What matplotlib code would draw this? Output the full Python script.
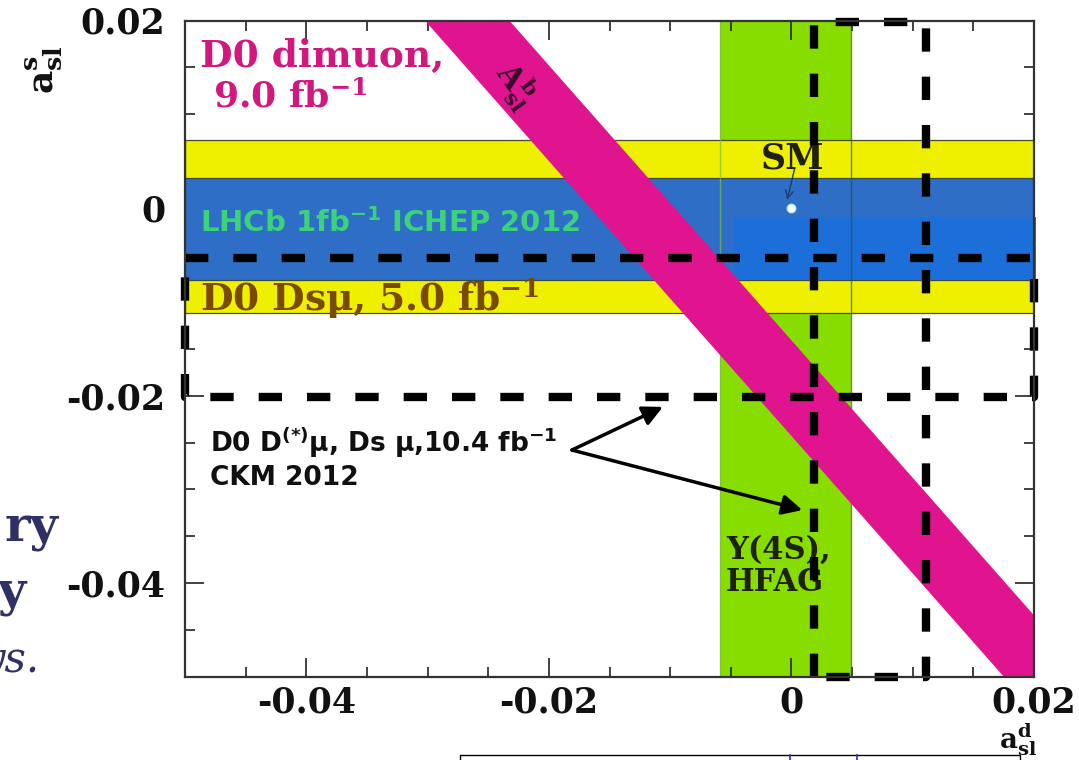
import numpy as np
import matplotlib
matplotlib.use("Agg")
import matplotlib.pyplot as plt
from matplotlib.patches import Rectangle
from matplotlib.lines import Line2D
from matplotlib.ticker import FixedLocator, FixedFormatter, MultipleLocator

plt.rcParams['font.family'] = ['DejaVu Serif', 'DejaVu Sans']
plt.rcParams['font.weight'] = 'bold'
plt.rcParams['mathtext.fontset'] = 'dejavuserif'
plt.rcParams['axes.unicode_minus'] = False

# axis ranges
x_range = [-0.05, 0.02]
y_range = [-0.05, 0.02]
major_ticks = [-0.04, -0.02, 0.0, 0.02]
major_labels = ['-0.04', '-0.02', '0', '0.02']

# measurements
hfag_band = [-0.0059, 0.0049]          # Y(4S), HFAG  (a_sl^d)
dsmu_band = [-0.0112, 0.00725]         # D0 Ds mu 5.0 fb-1 (a_sl^s)
lhcb_band = [-0.0077, 0.0032]          # LHCb 1fb-1 ICHEP 2012
lhcb_patch_x = [-0.0047, 0.0202]
lhcb_patch_y = [-0.0076, -0.0009]
asl_b_slope = -1.466                   # D0 dimuon A_sl^b band
asl_b_lo = -0.0243
asl_b_hi = -0.0141
box_d_x = [-0.05, 0.02]                # D0 D(*)mu, Ds mu 10.4 fb-1
box_d_y = [-0.0201, -0.0053]
box_s_x = [0.0019, 0.0111]
box_s_y = [-0.05, 0.0198]
sm_point = (0.0, 0.0)
arrow_from = (-0.0181, -0.0258)
arrow_to = [(-0.0106, -0.0212), (0.0009, -0.0322)]

fig = plt.figure(figsize=(10.79, 7.6), dpi=100)
ax = fig.add_axes([185 / 1079, 1 - 677 / 760, (1034 - 185) / 1079, (677 - 20.5) / 760])
ax.set_xlim(x_range)
ax.set_ylim(y_range)

# bands
ax.axvspan(hfag_band[0], hfag_band[1], color='#88DD00', lw=0, zorder=1)
ax.add_patch(Rectangle((x_range[0], dsmu_band[0]), x_range[1] - x_range[0], dsmu_band[1] - dsmu_band[0],
                       facecolor='#EEF000', edgecolor='#4a4a20', lw=0.9, zorder=2))
ax.add_patch(Rectangle((x_range[0], lhcb_band[0]), x_range[1] - x_range[0], lhcb_band[1] - lhcb_band[0],
                       facecolor='#2F6EC6', edgecolor='#3a4a40', lw=0.9, zorder=2.1))
ax.add_patch(Rectangle((lhcb_patch_x[0], lhcb_patch_y[0]), lhcb_patch_x[1] - lhcb_patch_x[0],
                       lhcb_patch_y[1] - lhcb_patch_y[0], facecolor='#1C6FD8', lw=0, zorder=2.2, clip_on=False))
for xv, c in zip(hfag_band, ['#7fbf40', '#3a4a40']):
    ax.axvline(xv, color=c, lw=1.0, alpha=0.7, zorder=2.3)

xs = np.array(x_range)
ax.fill_between(xs, asl_b_lo + asl_b_slope * xs, asl_b_hi + asl_b_slope * xs,
                color='#E0148F', lw=0, zorder=3)

# SM point
ax.plot(*sm_point, 'o', ms=6, mfc='white', mec='#c0f4f0', mew=1, zorder=4)
ax.annotate('', xy=(sm_point[0] - 0.0004, sm_point[1] + 0.0006), xytext=(sm_point[0] + 0.0003, 0.0044),
            arrowprops=dict(arrowstyle='->', color='#203a70', lw=1.0, mutation_scale=14), zorder=4)

# labels inside
ax.text(-0.0488, 0.0150, 'D0 dimuon,', color='#D0187F', fontsize=27, zorder=5)
ax.text(-0.0477, 0.0107, r'9.0 fb$^{\mathbf{-1}}$', color='#D0187F', fontsize=26, zorder=5)
ax.text(-0.0488, -0.0016, r'LHCb 1fb$^{\mathsf{-1}}$ ICHEP 2012', family='DejaVu Sans', color='#3CD27A',
        fontsize=21, va='center', zorder=5)
ax.text(-0.0488, -0.0096, r'D0 Ds$\mathbf{\mu}$, 5.0 fb$^{\mathbf{-1}}$', color='#7A4A00', fontsize=27,
        va='center', zorder=5)
ax.text(0.0001, 0.0053, 'SM', color='#202010', fontsize=25, ha='center', va='center', zorder=5)
ax.text(-0.0228, 0.0131, r'$\mathbf{A}_{\mathbf{sl}}^{\mathbf{b}}$', color='#3a0a2a', fontsize=22,
        rotation=-54, ha='center', va='center', zorder=5)
ax.text(-0.0479, -0.0251, r'D0 D$^{\mathsf{(*)}}$μ, Ds μ,10.4 fb$^{\mathsf{-1}}$', family='DejaVu Sans',
        color='#101010', fontsize=19, va='center', zorder=5)
ax.text(-0.0479, -0.0288, 'CKM 2012', family='DejaVu Sans', color='#101010', fontsize=19,
        va='center', zorder=5)
ax.text(-0.0054, -0.0365, 'Y(4S),', color='#202010', fontsize=22, va='center', zorder=5)
ax.text(-0.0054, -0.0399, 'HFAG', color='#202010', fontsize=22, va='center', zorder=5)

# dashed boxes
dash = dict(color='black', lw=6, linestyle=(0, (2.8, 3.0)), dash_capstyle='butt', zorder=6, clip_on=False)
ax.plot([box_d_x[0], box_d_x[1], box_d_x[1], box_d_x[0], box_d_x[0]],
        [box_d_y[1], box_d_y[1], box_d_y[0], box_d_y[0], box_d_y[1]], **dash)
ax.plot([box_s_x[0], box_s_x[0], box_s_x[1], box_s_x[1], box_s_x[0]],
        [box_s_y[0], box_s_y[1], box_s_y[1], box_s_y[0], box_s_y[0]], **dash)

for tip in arrow_to:
    ax.annotate('', xy=tip, xytext=arrow_from,
                arrowprops=dict(arrowstyle='-|>', color='black', lw=2.5, mutation_scale=30,
                                shrinkA=0, shrinkB=0), zorder=7)

# axes styling
for s in ax.spines.values():
    s.set_linewidth(1.6)
    s.set_color('#333333')
    s.set_zorder(8)
ax.xaxis.set_major_locator(FixedLocator(major_ticks))
ax.xaxis.set_major_formatter(FixedFormatter(major_labels))
ax.yaxis.set_major_locator(FixedLocator(major_ticks))
ax.yaxis.set_major_formatter(FixedFormatter(major_labels))
ax.xaxis.set_minor_locator(MultipleLocator(0.005))
ax.yaxis.set_minor_locator(MultipleLocator(0.005))
ax.tick_params(which='both', direction='in', top=True, right=True, colors='#333333', width=1.3,
               labelcolor='#111111', labelsize=25)
ax.tick_params(which='major', length=14)
ax.tick_params(which='minor', length=7)
ax.tick_params(axis='y', pad=14)
ax.tick_params(axis='x', pad=6)

fig.text(44 / 1079, 1 - 70 / 760, r'$\mathbf{a}_{\mathbf{sl}}^{\mathbf{s}}$', rotation=90, fontsize=26,
         ha='center', va='center', color='#111111')
fig.text(1018 / 1079, 1 - 758 / 760, r'$\mathbf{a}_{\mathbf{sl}}^{\mathbf{d}}$', fontsize=20,
         ha='center', va='bottom', color='#111111')

# slide remnants
navy = '#2E3166'
fig.text(58 / 1079, 1 - 541 / 760, 'ry', fontsize=35, color=navy, ha='right', va='baseline')
fig.text(26 / 1079, 1 - 606 / 760, 'y', fontsize=35, color=navy, ha='right', va='baseline')
fig.text(40 / 1079, 1 - 673 / 760, 'ys.', style='italic', weight='normal',
         fontsize=30, color=navy, ha='right', va='baseline')
fig.patches.append(Rectangle((460 / 1079, -0.01), 560 / 1079, 0.016, transform=fig.transFigure,
                             fill=False, edgecolor='black', lw=1.0))
for xv, c in [(790, '#2030d0'), (857, '#2030d0')]:
    fig.lines.append(Line2D([xv / 1079, xv / 1079], [0, 0.006], transform=fig.transFigure, color=c, lw=1.2))

fig.savefig('out.png', dpi=100)
